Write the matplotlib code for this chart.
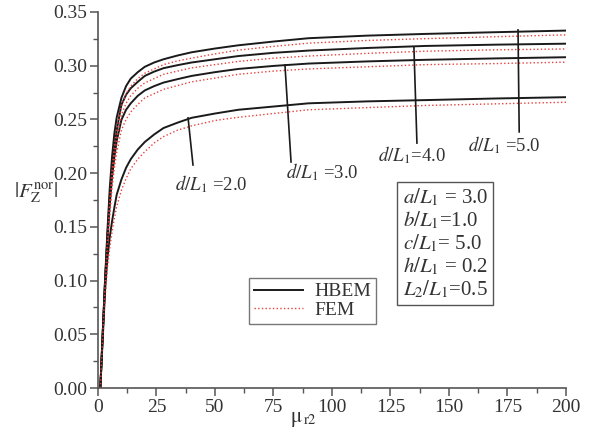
import matplotlib
matplotlib.use('Agg')
import matplotlib.pyplot as plt
from matplotlib.ticker import MultipleLocator

plt.rcParams['font.family'] = ['Liberation Serif', 'DejaVu Serif']
plt.rcParams['mathtext.fontset'] = 'stix'

# relative permeability of the lower layer
mu_r2 = [1, 2, 3, 4, 5, 6, 7, 8, 10, 12, 14, 17, 20, 24, 28, 34, 40, 50, 60, 75,
         90, 115, 140, 170, 200]

# HBEM results, one list per d/L1
hbem_d5 = [0, 0.050, 0.100, 0.145, 0.185, 0.215, 0.237, 0.252, 0.270, 0.281, 0.288,
           0.294, 0.299, 0.303, 0.306, 0.3095, 0.3125, 0.316, 0.319, 0.3225, 0.3256,
           0.328, 0.3296, 0.3312, 0.3327]
hbem_d4 = [0, 0.050, 0.098, 0.140, 0.177, 0.205, 0.225, 0.240, 0.2635, 0.273, 0.279,
           0.285, 0.2905, 0.2945, 0.2977, 0.3005, 0.303, 0.306, 0.309, 0.312, 0.3141,
           0.3165, 0.3184, 0.3196, 0.3205]
hbem_d3 = [0, 0.050, 0.097, 0.137, 0.170, 0.196, 0.215, 0.230, 0.2495, 0.259, 0.265,
           0.272, 0.277, 0.281, 0.2843, 0.2875, 0.2905, 0.294, 0.297, 0.2998, 0.302,
           0.304, 0.3055, 0.3068, 0.3079]
hbem_d2 = [0, 0.045, 0.090, 0.120, 0.140, 0.155, 0.168, 0.180, 0.194, 0.205, 0.213,
           0.222, 0.229, 0.236, 0.242, 0.247, 0.2515, 0.2555, 0.259, 0.262, 0.265,
           0.2668, 0.268, 0.2695, 0.2707]

# FEM results
fem_d5 = [0, 0.048, 0.095, 0.137, 0.174, 0.203, 0.225, 0.242, 0.262, 0.274, 0.281,
          0.288, 0.293, 0.297, 0.301, 0.3045, 0.307, 0.311, 0.3145, 0.318, 0.321,
          0.3235, 0.3252, 0.327, 0.3287]
fem_d4 = [0, 0.048, 0.093, 0.132, 0.166, 0.194, 0.215, 0.231, 0.254, 0.265, 0.272,
          0.279, 0.284, 0.288, 0.292, 0.295, 0.298, 0.301, 0.304, 0.307, 0.309,
          0.3115, 0.3135, 0.3148, 0.3156]
fem_d3 = [0, 0.048, 0.092, 0.130, 0.160, 0.186, 0.205, 0.219, 0.240, 0.250, 0.257,
          0.264, 0.270, 0.274, 0.278, 0.2815, 0.285, 0.2885, 0.292, 0.295, 0.297,
          0.299, 0.301, 0.302, 0.3033]
fem_d2 = [0, 0.042, 0.083, 0.111, 0.130, 0.145, 0.158, 0.169, 0.184, 0.195, 0.204,
          0.213, 0.220, 0.228, 0.234, 0.240, 0.244, 0.249, 0.252, 0.2555, 0.259,
          0.261, 0.263, 0.2645, 0.266]

hbem_all = [hbem_d2, hbem_d3, hbem_d4, hbem_d5]
fem_all = [fem_d2, fem_d3, fem_d4, fem_d5]
d_labels = [r'$d/L_1$ =2.0', r'$d/L_1$ =3.0', r'$d/L_1$=4.0', r'$d/L_1$ =5.0']

fig = plt.figure(figsize=(5.91, 4.33), dpi=100)
ax = fig.add_axes([0.1658, 0.1039, 0.7919, 0.8684])

for i in range(4):
    lab_h = 'HBEM' if i == 0 else None
    lab_f = 'FEM' if i == 0 else None
    ax.plot(mu_r2, hbem_all[i], color='#1a1a1a', lw=1.4, label=lab_h)
    ax.plot(mu_r2, fem_all[i], color='#e8403a', lw=1.0, ls=':', label=lab_f)

# pointer lines from the curves to their labels: (top xy, bottom xy, label xy)
pointers = [((38.5, 0.2514), (40.6, 0.2076), (48.3, 0.190)),
            ((79.9, 0.3007), (82.5, 0.2104), (95.7, 0.201)),
            ((135.0, 0.3175), (136.3, 0.228), (134.2, 0.217)),
            ((179.5, 0.3333), (180.0, 0.2384), (173.5, 0.2263))]
for (p0, p1, pt), lab in zip(pointers, d_labels):
    ax.plot([p0[0], p1[0]], [p0[1], p1[1]], color='#1a1a1a', lw=1.2)
    ax.text(pt[0], pt[1], lab, fontsize=13.5, ha='center', va='center', color='#333333')

ax.set_xlim(0, 200)
ax.set_ylim(0, 0.35)
ax.xaxis.set_major_locator(MultipleLocator(25))
ax.xaxis.set_minor_locator(MultipleLocator(12.5))
ax.yaxis.set_major_locator(MultipleLocator(0.05))
ax.yaxis.set_minor_locator(MultipleLocator(0.025))
ax.yaxis.set_major_formatter(plt.FormatStrFormatter('%.2f'))
for s in ['top', 'right']:
    ax.spines[s].set_visible(False)
for s in ['left', 'bottom']:
    ax.spines[s].set_color('#555555')
    ax.spines[s].set_linewidth(1.2)
ax.tick_params(which='major', direction='out', length=6, width=1.1, colors='#555555',
               labelsize=14, labelcolor='#333333', pad=2)
ax.tick_params(which='minor', direction='out', length=3.5, width=1.0, colors='#555555')

ax.text(-0.133, 0.52, r'$|F_{\mathrm{Z}}^{\mathrm{nor}}|$', transform=ax.transAxes,
        fontsize=15, ha='center', va='center', color='#333333')
ax.text(0.44, -0.085, r'$\mathrm{\mu}_{\,\mathrm{r2}}$', transform=ax.transAxes,
        fontsize=15, ha='center', va='center', color='#333333')

leg = ax.legend(loc='upper left', bbox_to_anchor=(0.323, 0.293), fontsize=14,
                handlelength=2.5, frameon=True, fancybox=False, borderpad=0.25,
                labelspacing=0.05, handletextpad=0.6, borderaxespad=0)
leg.get_frame().set_edgecolor('#555555')
leg.get_frame().set_linewidth(1.0)
for t in leg.get_texts():
    t.set_color('#333333')

params = (r'$a/L_1$ = 3.0' + '\n' + r'$b/L_1$=1.0' + '\n' + r'$c/L_1$= 5.0' + '\n'
          + r'$h/L_1$ = 0.2' + '\n' + r'$L_2/L_1$=0.5')
ax.text(0.651, 0.535, params, transform=ax.transAxes, fontsize=15, va='top', ha='left',
        color='#333333', linespacing=1.07,
        bbox=dict(boxstyle='square,pad=0.25', fc='white', ec='#555555', lw=1.0))

fig.savefig('out.png', dpi=100)
